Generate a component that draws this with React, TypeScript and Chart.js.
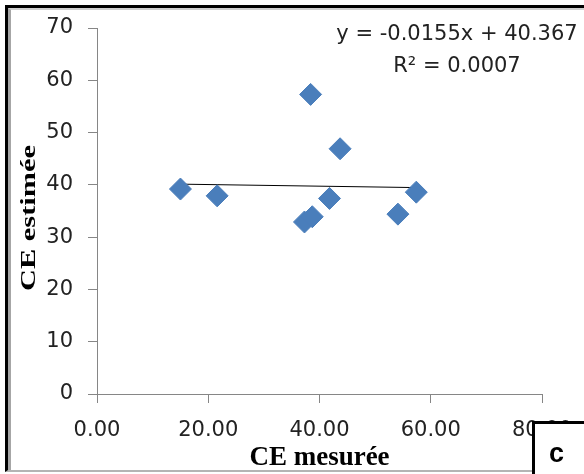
import React, { useEffect, useRef } from "react";
import { Chart, registerables } from "chart.js";

Chart.register(...registerables);

const measuredCE = [15.0, 21.6, 38.4, 43.7, 41.8, 37.3, 38.7, 54.1, 57.4];
const estimatedCE = [39.2, 37.9, 57.3, 46.9, 37.4, 32.9, 33.9, 34.4, 38.6];
const slope = -0.0155;
const intercept = 40.367;
const equationLines = ["y = -0.0155x + 40.367", "R\u00B2 = 0.0007"];
const xTitle = "CE mesurée";
const yTitle = "CE estimée";
const panelLabel = "c";

const TICK_FONT = "'DejaVu Sans', sans-serif";
const TITLE_FONT = "'Liberation Serif', 'Times New Roman', serif";

export default function App() {
  const ref = useRef<HTMLCanvasElement | null>(null);

  useEffect(() => {
    if (!ref.current) return;
    const xMin = Math.min(...measuredCE);
    const xMax = Math.max(...measuredCE);
    const trend = [
      { x: xMin, y: slope * xMin + intercept },
      { x: xMax, y: slope * xMax + intercept },
    ];
    const points = measuredCE.map((x, i) => ({ x, y: estimatedCE[i] }));

    const textPlugin = {
      id: "texts",
      afterDraw(chart: any) {
        const ctx = chart.ctx as CanvasRenderingContext2D;
        const area = chart.chartArea;
        ctx.save();
        ctx.fillStyle = "#000";
        ctx.font = `bold 27px ${TITLE_FONT}`;
        ctx.textAlign = "center";
        ctx.textBaseline = "alphabetic";
        ctx.fillText(xTitle, (area.left + area.right) / 2, 465);
        ctx.restore();

        ctx.save();
        ctx.fillStyle = "#000";
        ctx.font = `bold 22px ${TITLE_FONT}`;
        ctx.translate(35, 218);
        ctx.rotate(-Math.PI / 2);
        ctx.scale(1.38, 1);
        ctx.textAlign = "center";
        ctx.textBaseline = "alphabetic";
        ctx.fillText(yTitle, 0, 0);
        ctx.restore();

        ctx.save();
        ctx.fillStyle = "#222";
        ctx.font = `21px ${TICK_FONT}`;
        ctx.textAlign = "center";
        ctx.textBaseline = "alphabetic";
        ctx.fillText(equationLines[0], 457, 40);
        ctx.fillText(equationLines[1], 457, 72);
        ctx.restore();
      },
    };

    const chart = new Chart(ref.current, {
      type: "scatter",
      data: {
        datasets: [
          {
            type: "scatter",
            label: "CE",
            data: points,
            pointStyle: "rectRot",
            pointRadius: 11,
            backgroundColor: "#4a7ebb",
            borderColor: "#4a7ebb",
            borderWidth: 1,
          },
          {
            type: "line",
            label: "trend",
            data: trend,
            borderColor: "#000",
            borderWidth: 1,
            pointRadius: 0,
            fill: false,
          },
        ],
      },
      options: {
        responsive: false,
        animation: false,
        layout: { padding: { top: 28, right: 42, left: 0, bottom: 0 } },
        plugins: { legend: { display: false }, tooltip: { enabled: false } },
        scales: {
          x: {
            type: "linear",
            min: 0,
            max: 80,
            afterFit: (s: any) => {
              s.height = 80;
              s.paddingLeft = 0;
              s.paddingRight = 0;
            },
            ticks: {
              stepSize: 20,
              callback: (v: any) => Number(v).toFixed(2),
              font: { family: TICK_FONT, size: 21 },
              color: "#222",
              padding: 15,
              maxRotation: 0,
            },
            grid: {
              drawOnChartArea: false,
              drawTicks: true,
              tickLength: 9,
              color: "#868686",
            },
            border: { color: "#868686", width: 1 },
          },
          y: {
            type: "linear",
            min: 0,
            max: 70,
            afterFit: (s: any) => {
              s.width = 97;
              s.paddingTop = 0;
              s.paddingBottom = 0;
            },
            ticks: {
              stepSize: 10,
              font: { family: TICK_FONT, size: 21 },
              color: "#222",
              padding: 15,
            },
            grid: {
              drawOnChartArea: false,
              drawTicks: true,
              tickLength: 9,
              color: "#868686",
            },
            border: { color: "#868686", width: 1 },
          },
        },
      },
      plugins: [textPlugin],
    });
    return () => chart.destroy();
  }, []);

  return (
    <div
      style={{
        position: "absolute",
        left: 0,
        top: 0,
        width: 584,
        height: 474,
        overflow: "hidden",
        background: "#fff",
      }}
    >
      <canvas ref={ref} width={584} height={474} style={{ position: "absolute", left: 0, top: 0 }} />
      <div
        style={{
          position: "absolute",
          left: 5,
          top: 5,
          width: 590,
          height: 467,
          borderLeft: "3px solid #000",
          borderTop: "3px solid #000",
          borderBottom: "2px solid #b4b4b4",
          boxSizing: "border-box",
          pointerEvents: "none",
        }}
      >
        <div
          style={{
            position: "absolute",
            left: 0,
            top: 0,
            right: 0,
            bottom: 0,
            borderLeft: "3px solid #a6a6a6",
            borderTop: "2px solid #d0d0d0",
          }}
        />
      </div>
      <div
        style={{
          position: "absolute",
          left: 532,
          top: 421,
          width: 80,
          height: 80,
          borderLeft: "3px solid #000",
          borderTop: "3px solid #000",
          background: "#fff",
          boxSizing: "border-box",
        }}
      >
        <div
          style={{
            position: "absolute",
            left: 14,
            top: 14,
            fontFamily: "'Liberation Sans', Arial, sans-serif",
            fontWeight: "bold",
            fontSize: 27,
            lineHeight: "30px",
            color: "#000",
          }}
        >
          {panelLabel}
        </div>
      </div>
    </div>
  );
}
